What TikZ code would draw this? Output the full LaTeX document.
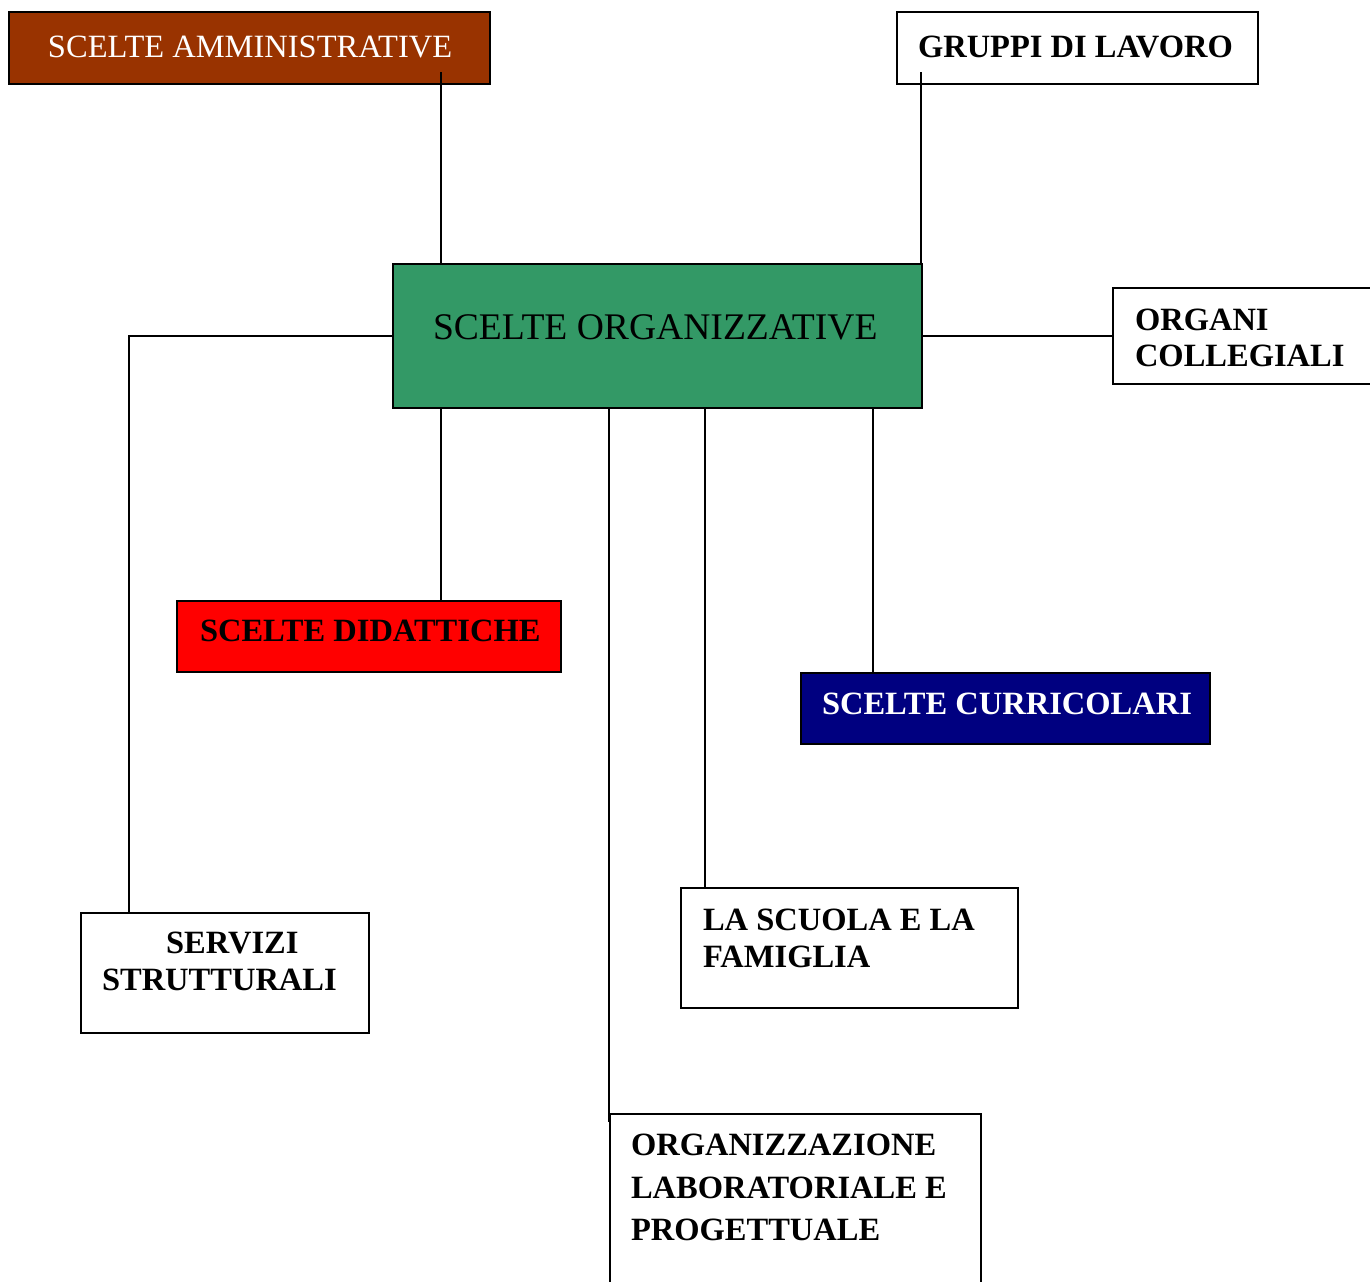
\documentclass[tikz,border=0pt]{standalone}
\usepackage{fontspec}
\setmainfont{Liberation Serif}
\usetikzlibrary{calc}
\definecolor{admbrown}{HTML}{993300}
\definecolor{orggreen}{HTML}{339966}
\definecolor{didred}{HTML}{FF0000}
\definecolor{curnavy}{HTML}{000080}
\newcommand\fsz{\fontsize{18.5}{22}\selectfont}
\newcommand\fbig{\fontsize{21.4}{25}\selectfont}
\begin{document}
\begin{tikzpicture}[x=0.02cm,y=-0.02cm,
  box/.style={draw=black,line width=1.1pt,inner sep=0,outer sep=0,anchor=north west},
  lbl/.style={inner sep=0,outer sep=0,anchor=base west,font=\fsz\bfseries},
  conn/.style={draw=black,line width=1.1pt}]
\useasboundingbox (0,0) rectangle (1370,1282);
\clip (0,0) rectangle (1370,1282);
% boxes
\node[box,fill=admbrown,minimum width=481*0.02cm,minimum height=72*0.02cm] (adm) at (9,12) {};
\node[box,fill=white,minimum width=361*0.02cm,minimum height=72*0.02cm] (grp) at (897,12) {};
\node[box,fill=orggreen,minimum width=529*0.02cm,minimum height=144*0.02cm] (org) at (393,264) {};
\node[box,fill=white,minimum width=290*0.02cm,minimum height=96*0.02cm] (orc) at (1113,288) {};
\node[box,fill=didred,minimum width=384*0.02cm,minimum height=71*0.02cm] (did) at (177,601) {};
\node[box,fill=curnavy,minimum width=409*0.02cm,minimum height=71*0.02cm] (cur) at (801,673) {};
\node[box,fill=white,minimum width=288*0.02cm,minimum height=120*0.02cm] (ser) at (81,913) {};
\node[box,fill=white,minimum width=337*0.02cm,minimum height=120*0.02cm] (fam) at (681,888) {};
\node[box,fill=white,minimum width=371*0.02cm,minimum height=220*0.02cm] (lab) at (610,1114) {};
% connectors
\draw[conn] ($(adm.north west)+(432,60)$) -- ($(org.north west)+(48,0)$);
\draw[conn] ($(grp.north west)+(24,60)$) -- ($(org.north east)+(-1,0)$);
\draw[conn] (org.east) -- (orc.west);
\draw[conn] (org.west) -| ($(ser.north west)+(48,0)$);
\draw[conn] ($(org.south west)+(48,0)$) -- ($(did.north west)+(264,0)$);
\draw[conn] ($(org.south west)+(216,0)$) -- ($(lab.north west)+(-1,8)$);
\draw[conn] ($(org.south west)+(312,0)$) -- ($(fam.north west)+(24,0)$);
\draw[conn] ($(org.south west)+(480,0)$) -- ($(cur.north west)+(72,0)$);
% texts
\node[lbl,font=\fsz,text=white] (admT) at (48,57) {SCELTE AMMINISTRATIVE};
\node[lbl] (grpT) at (918,57) {GRUPPI DI LAVORO};
\node[lbl,font=\fbig] (orgT) at (433,339) {SCELTE ORGANIZZATIVE};
\node[lbl] (orcT1) at (1135,330) {ORGANI};
\node[lbl] (orcT2) at (1135,366) {COLLEGIALI};
\node[lbl] (didT) at (200,641) {SCELTE DIDATTICHE};
\node[lbl,text=white] (curT) at (822,714) {SCELTE CURRICOLARI};
\node[lbl] (serT1) at (166,953) {SERVIZI};
\node[lbl] (serT2) at (102,990) {STRUTTURALI};
\node[lbl] (famT1) at (703,930) {LA SCUOLA E LA};
\node[lbl] (famT2) at (703,967) {FAMIGLIA};
\node[lbl] (labT1) at (631,1155) {ORGANIZZAZIONE};
\node[lbl] (labT2) at (631,1198) {LABORATORIALE E};
\node[lbl] (labT3) at (631,1240) {PROGETTUALE};
\end{tikzpicture}
\end{document}
